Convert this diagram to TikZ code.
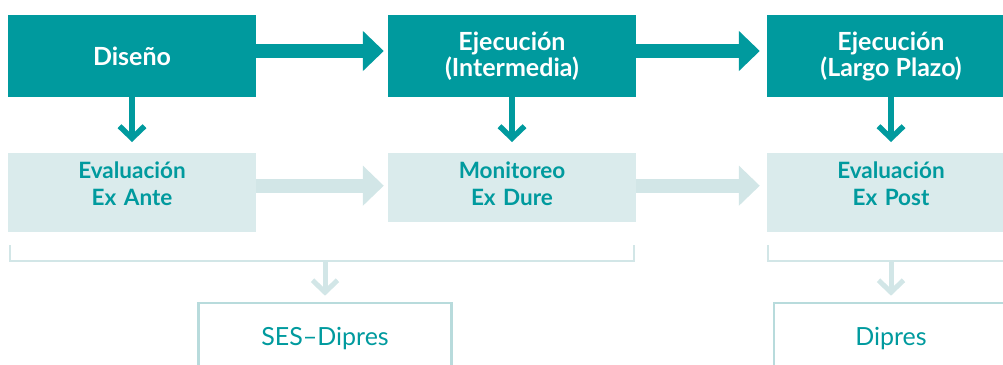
\documentclass[tikz,border=0pt]{standalone}
\usepackage{fontspec}
\setmainfont{Lato}
\usetikzlibrary{arrows.meta}
\usetikzlibrary{positioning}

\definecolor{tealdark}{HTML}{009A9E}
\definecolor{teallight}{HTML}{DAEBEC}
\definecolor{tealpale}{HTML}{D2E6E7}
\definecolor{tealline}{HTML}{B8DBDC}

\begin{document}
\begin{tikzpicture}[
    x=1pt, y=-1pt,
    phase/.style={fill=tealdark, text=white, minimum width=248pt, minimum height=82pt, inner sep=0pt, align=center, font=\fontsize{25}{26}\selectfont\bfseries},
    evalbox/.style={fill=teallight, text=tealdark, anchor=north, text width=248pt, inner sep=0pt, align=center, text height=25pt, font=\fontsize{22.5}{27}\selectfont\bfseries},
    owner/.style={draw=tealline, line width=2.5pt, text=tealdark, anchor=north, minimum height=72pt, inner sep=0pt, font=\fontsize{25}{26}\selectfont},
    flow/.style={-{Triangle[length=21pt,width=39pt]}, line width=14pt, tealdark},
    flowlight/.style={flow, tealpale},
    down/.style={-{Straight Barb[length=12pt,width=25pt]}, line width=5.5pt, tealdark},
    downlight/.style={down, tealpale},
    brace/.style={tealpale, line width=1.2pt}
]

\useasboundingbox (0,0) rectangle (1003,364);
\clip (0,0) rectangle (1003,364);

% --- Top row: project phases ---
\node[phase] (design) at (132,56) {Diseño};
\node[phase] (midterm) at (512,56) {Ejecución\\(Intermedia)};
\node[phase] (longterm) at (891,56) {Ejecución\\(Largo Plazo)};

\draw[flow, shorten >=4pt] ([yshift=5pt]design.east) -- ([yshift=5pt]midterm.west);
\draw[flow, shorten >=7pt] ([yshift=5pt]midterm.east) -- ([yshift=5pt]longterm.west);

% --- Middle row: evaluation stages ---
\node[evalbox, text depth=54pt] (exante) at (132,153) {Evaluación\\Ex Ante};
\node[evalbox, text depth=44pt] (exdure) at (512,153) {Monitoreo\\Ex Dure};
\node[evalbox, text depth=54pt] (expost) at (891,153) {Evaluación\\Ex Post};

\draw[down, shorten >=11pt] (design) -- (exante);
\draw[down, shorten >=11pt] (midterm) -- (exdure);
\draw[down, shorten >=11pt] (longterm) -- (expost);

\draw[flowlight, shorten >=4pt] ([yshift=7pt]exante.east) -- ([yshift=2pt]exdure.west);
\draw[flowlight, shorten >=7pt] ([yshift=2pt]exdure.east) -- ([yshift=7pt]expost.west);

% --- Bottom row: responsible units ---
\node[owner, minimum width=253pt] (ses) at (325,301.7) {SES–Dipres};
\node[owner, minimum width=234pt] (dipres) at (891,301.7) {Dipres};

% Brackets grouping the stages
\coordinate (joinA) at (325,261);
\coordinate (joinB) at (891,261);
\draw[brace] (10,245) |- (joinA) -| (634,245);
\draw[brace] (768,245) |- (joinB) -- (1010,261);

\draw[downlight, line width=5pt, shorten >=6pt] (joinA) -- (ses);
\draw[downlight, line width=5pt, shorten >=6pt] (joinB) -- (dipres);

\end{tikzpicture}
\end{document}
